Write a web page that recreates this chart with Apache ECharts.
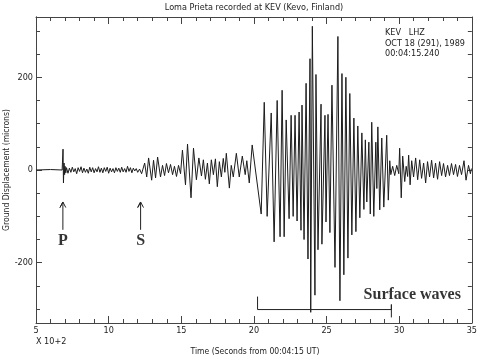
<!DOCTYPE html>
<html>
<head>
<meta charset="utf-8">
<script src="https://cdn.jsdelivr.net/npm/echarts@6/dist/echarts.min.js"></script>
<style>html,body{margin:0;padding:0;background:#fff;}#c{width:480px;height:360px;}</style>
</head>
<body>
<div id="c"></div>
<script>
// ---- Data (time in units of 100 s, displacement in microns) ----
const pTime = [5.0, 6.0, 6.8, 6.83, 6.86, 6.89, 6.93, 6.97, 7.0, 7.05];
const pAmp  = [0, 1, 0, 3, 45, -28, 15, -10, 8, -6];

const quietTime = [7.1, 7.2, 7.3, 7.4, 7.5, 7.6, 7.7, 7.8, 7.9, 8.0,
  8.1, 8.2, 8.3, 8.4, 8.5, 8.6, 8.7, 8.8, 8.9, 9.0,
  9.1, 9.2, 9.3, 9.4, 9.5, 9.6, 9.7, 9.8, 9.9, 10.0,
  10.1, 10.2, 10.3, 10.4, 10.5, 10.6, 10.7, 10.8, 10.9, 11.0,
  11.1, 11.2, 11.3, 11.4, 11.5, 11.6, 11.7, 11.8, 11.9, 12.0];
const quietAmp = [5, -7, 4, -5, 6, -4, 3, -8, 5, -3,
  7, -6, 4, -5, 2, -7, 6, -4, 5, -6,
  3, -4, 7, -5, 4, -6, 5, -3, 6, -7,
  4, -4, 3, -6, 5, -3, 4, -5, 6, -4,
  3, -5, 8, -3, 5, -6, 4, -2, 3, -5];

const sTime = [12.13, 12.27, 12.48, 12.62, 12.75, 12.96, 13.09, 13.23, 13.37, 13.57,
  13.71, 13.85, 13.98, 14.12, 14.26, 14.40, 14.53, 14.67, 14.81, 14.95,
  15.08, 15.29, 15.43, 15.67, 15.84, 16.04, 16.21, 16.39, 16.52, 16.66,
  16.80, 16.93, 17.07, 17.21, 17.35, 17.48, 17.62, 17.76, 17.89, 18.00,
  18.10, 18.31, 18.44, 18.58, 18.79, 18.99, 19.20, 19.40, 19.51, 19.68];
const sAmp = [2, -8, 15, -15, 26, -22, 21, -17, 28, -15,
  10, -12, 14, -6, 12, -10, 8, -14, 10, -8,
  43, -32, 56, -60, 47, -21, 26, -13, 22, -20,
  15, -30, 22, -10, 24, -36, 18, -15, 25, -5,
  36, -39, 10, -15, 36, -15, 30, -10, 20, -28];

const surfTime = [19.88, 20.50, 20.71, 20.91, 21.19, 21.39, 21.60, 21.80, 21.94, 22.08,
  22.22, 22.42, 22.56, 22.70, 22.83, 22.97, 23.11, 23.24, 23.31, 23.45,
  23.59, 23.72, 23.86, 23.91, 24.02, 24.20, 24.27, 24.41, 24.62, 24.68,
  24.89, 24.96, 25.10, 25.23, 25.37, 25.58, 25.78, 25.92, 26.06, 26.19,
  26.33, 26.47, 26.60, 26.74, 26.88, 27.02, 27.15, 27.29, 27.43, 27.57,
  27.67, 27.77, 27.91, 28.01, 28.11, 28.25, 28.39, 28.46, 28.53, 28.66,
  28.80, 28.94, 29.14, 29.25, 29.35];
const surfAmp = [54, -95, 146, -100, 123, -155, 150, -144, 172, -144,
  108, -105, 118, -100, 118, -110, 125, -130, 140, -150,
  187, -192, 240, -307, 310, -270, 206, -172, 142, -160,
  118, -112, 120, -135, 183, -210, 288, -282, 208, -226,
  200, -190, 165, -140, 112, -133, 95, -103, 80, -85,
  65, -69, 60, -95, 103, -100, 60, -40, 93, -86,
  69, -80, 75, -65, 20];

const codaTime = [29.42, 29.55, 29.69, 29.83, 29.97, 30.03, 30.14, 30.24, 30.38, 30.48,
  30.58, 30.65, 30.75, 30.86, 30.99, 31.13, 31.27, 31.41, 31.54, 31.68,
  31.82, 31.95, 32.09, 32.23, 32.37, 32.50, 32.64, 32.78, 32.92, 33.05,
  33.19, 33.33, 33.46, 33.60, 33.74, 33.88, 34.01, 34.15, 34.29, 34.46,
  34.60, 34.77, 34.90, 34.97];
const codaAmp = [-10, 8, -12, 10, -8, 47, -60, 30, -25, 8,
  -14, 32, -32, 20, -15, 26, -21, 22, -18, 15,
  -28, 18, -15, 21, -17, 15, -20, 18, -12, 14,
  -15, 10, -12, 14, -10, 12, -14, 10, -10, 20,
  -22, 10, -8, 3];

// Axis ticks
const xLabelTicks = [5, 10, 15, 20, 25, 30, 35];
const yLabelTicks = [-200, 0, 200];
const yMinorTicks = [-300, -250, -200, -150, -100, -50, 0, 50, 100, 150, 200, 250, 300];

// Annotations (data units)
const phaseNames = ['P', 'S'];
const phaseTimes = [6.85, 12.2];
const surfaceSpan = [20.25, 29.46];
const surfaceLabel = 'Surface waves';

// ---- Build ----
function pairs(t, a) { return t.map((v, i) => [v, a[i]]); }
const wave = [].concat(pairs(pTime, pAmp), pairs(quietTime, quietAmp), pairs(sTime, sAmp),
  pairs(surfTime, surfAmp), pairs(codaTime, codaAmp));

const F = "'Liberation Sans Narrow', 'DejaVu Sans Condensed', 'Liberation Sans', sans-serif";
const SERIF = "'Liberation Serif', 'DejaVu Serif', serif";
const AX = '#444';
const TXT = '#222';

const arrowSeries = phaseTimes.map(t => ({
  type: 'line', xAxisIndex: 0, yAxisIndex: 0, silent: true, showSymbol: false, animation: false,
  lineStyle: { color: TXT, width: 1 },
  data: [[t, -129], [t, -69], [t - 0.2, -81], [t, -69], [t + 0.2, -81]]
}));

const bracketSeries = {
  type: 'line', xAxisIndex: 0, yAxisIndex: 0, silent: true, showSymbol: false,
  lineStyle: { color: TXT, width: 1 },
  data: [[surfaceSpan[0], -273], [surfaceSpan[0], -301], [surfaceSpan[1], -301], [surfaceSpan[1], -290], [surfaceSpan[1], -318]]
};

const labelBase = { show: true, color: '#000', fontFamily: SERIF, fontWeight: 'bold', fontSize: 16 };
const labelSeries = {
  type: 'scatter', xAxisIndex: 0, yAxisIndex: 0, silent: true, symbolSize: 0,
  itemStyle: { color: 'rgba(0,0,0,0)' },
  data: [
    { value: [phaseTimes[0], -152], label: Object.assign({}, labelBase, { formatter: phaseNames[0], position: 'inside' }) },
    { value: [phaseTimes[1], -152], label: Object.assign({}, labelBase, { formatter: phaseNames[1], position: 'inside' }) },
    { value: [27.55, -270], label: Object.assign({}, labelBase, { formatter: surfaceLabel, position: 'right', distance: 0, fontSize: 16 }) }
  ]
};

const tickStyle = { color: AX, width: 1 };
const chart = echarts.init(document.getElementById('c'), null, { renderer: 'canvas' });
chart.setOption({
  animation: false,
  backgroundColor: '#fff',
  grid: { left: 36, right: 7, top: 17, bottom: 37 },
  xAxis: [
    { type: 'value', min: 5, max: 35, interval: 5, position: 'bottom',
      axisLine: { onZero: false, lineStyle: tickStyle }, axisTick: { inside: true, length: 7, lineStyle: tickStyle },
      minorTick: { show: true, splitNumber: 5, length: 4, lineStyle: tickStyle },
      splitLine: { show: false }, minorSplitLine: { show: false },
      axisLabel: { fontSize: 9, color: TXT, margin: 3, fontFamily: F, customValues: xLabelTicks } },
    { type: 'value', min: 5, max: 35, interval: 5, position: 'top',
      axisLine: { onZero: false, lineStyle: tickStyle }, axisTick: { inside: true, length: 7, lineStyle: tickStyle },
      minorTick: { show: true, splitNumber: 5, length: 4, lineStyle: tickStyle },
      splitLine: { show: false }, axisLabel: { show: false } }
  ],
  yAxis: [
    { type: 'value', min: -330, max: 330, position: 'left',
      axisLine: { show: true, onZero: false, lineStyle: tickStyle },
      axisTick: { show: true, inside: true, length: 6, lineStyle: tickStyle, customValues: yLabelTicks },
      axisLabel: { fontSize: 9, color: TXT, margin: 3, fontFamily: F, customValues: yLabelTicks },
      splitLine: { show: false } },
    { type: 'value', min: -330, max: 330, position: 'left',
      axisLine: { show: true, onZero: false, lineStyle: tickStyle },
      axisTick: { show: true, inside: true, length: 4, lineStyle: tickStyle, customValues: yMinorTicks },
      axisLabel: { show: false }, splitLine: { show: false } },
    { type: 'value', min: -330, max: 330, position: 'right',
      axisLine: { show: true, onZero: false, lineStyle: tickStyle },
      axisTick: { show: true, inside: true, length: 4, lineStyle: tickStyle, customValues: yMinorTicks },
      axisLabel: { show: false }, splitLine: { show: false } }
  ],
  series: [
    { type: 'line', xAxisIndex: 0, yAxisIndex: 0, data: wave, showSymbol: false, silent: true,
      lineStyle: { color: '#1c1c1c', width: 1 } },
    ...arrowSeries,
    bracketSeries,
    labelSeries
  ],
  graphic: [
    { type: 'text', x: 254, y: 8, style: { text: 'Loma Prieta recorded at KEV (Kevo, Finland)', fontSize: 9, fontFamily: F, fill: TXT, align: 'center', verticalAlign: 'middle' } },
    { type: 'text', x: 7, y: 170, rotation: Math.PI / 2, style: { text: 'Ground Displacement (microns)', fontSize: 8.5, fontFamily: F, fill: TXT, align: 'center', verticalAlign: 'middle' } },
    { type: 'text', x: 255, y: 352, style: { text: 'Time (Seconds from 00:04:15 UT)', fontSize: 8.5, fontFamily: F, fill: TXT, align: 'center', verticalAlign: 'middle' } },
    { type: 'text', x: 36, y: 342, style: { text: 'X 10+2', fontSize: 9, fontFamily: F, fill: TXT, align: 'left', verticalAlign: 'middle' } },
    { type: 'text', x: 385, y: 33, style: { text: 'KEV   LHZ', fontSize: 9, fontFamily: F, fill: TXT, align: 'left', verticalAlign: 'middle' } },
    { type: 'text', x: 385, y: 44, style: { text: 'OCT 18 (291), 1989', fontSize: 9, fontFamily: F, fill: TXT, align: 'left', verticalAlign: 'middle' } },
    { type: 'text', x: 385, y: 54, style: { text: '00:04:15.240', fontSize: 9, fontFamily: F, fill: TXT, align: 'left', verticalAlign: 'middle' } }
  ]
});
</script>
</body>
</html>
